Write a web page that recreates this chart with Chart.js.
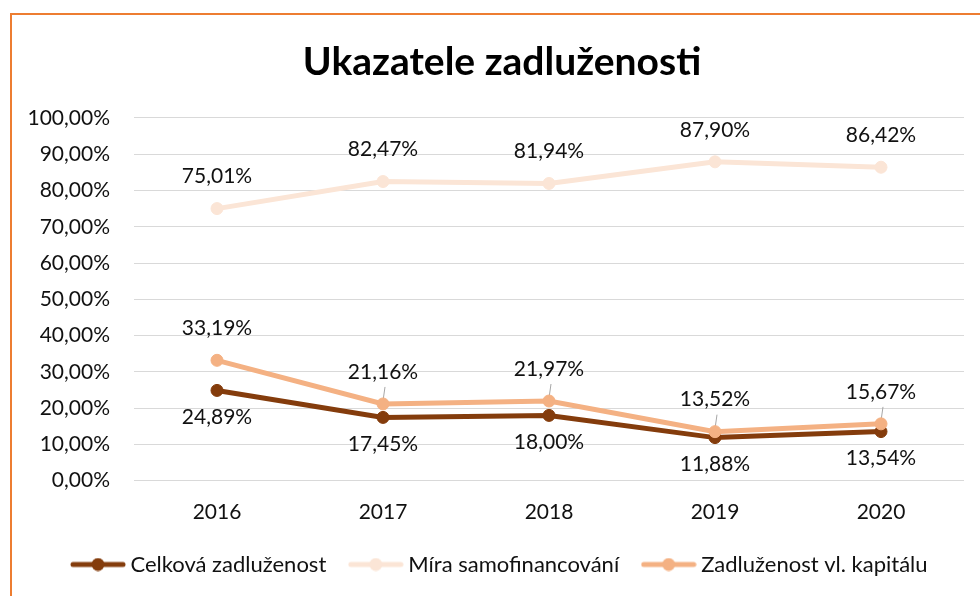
<!DOCTYPE html>
<html lang="cs">
<head>
<meta charset="UTF-8">
<title>Ukazatele zadluženosti</title>
<script src="https://cdn.jsdelivr.net/npm/chart.js"></script>
<style>
    html, body {
        margin: 0;
        padding: 0;
        width: 980px;
        height: 596px;
        overflow: hidden;
        background: #fff;
    }
    #wrap {
        position: absolute;
        left: 0;
        top: 0;
        width: 1004px;
        height: 596px;
    }
    .frame {
        position: absolute;
        left: 10px;
        top: 13px;
        width: 2000px;
        height: 2000px;
        border: 2px solid #ED7D31;
        pointer-events: none;
    }
</style>
</head>
<body>
<div id="wrap">
    <canvas id="chart" width="1004" height="596"></canvas>
</div>
<div class="frame"></div>

<script>
const years = ['2016', '2017', '2018', '2019', '2020'];
const celkovaZadluzenost = [24.89, 17.45, 18.00, 11.88, 13.54];
const miraSamofinancovani = [75.01, 82.47, 81.94, 87.90, 86.42];
const zadluzenostVlKapitalu = [33.19, 21.16, 21.97, 13.52, 15.67];

const FONT = 'Lato, "Open Sans", sans-serif';
const TEXT = '#111111';

const fmt = v => v.toFixed(2).replace('.', ',') + '%';

// legend marker: line with a dot in the middle
function marker(color) {
    const c = document.createElement('canvas');
    c.width = 56;
    c.height = 14;
    const g = c.getContext('2d');
    g.strokeStyle = color;
    g.lineWidth = 5;
    g.lineCap = 'round';
    g.beginPath();
    g.moveTo(3, 7);
    g.lineTo(53, 7);
    g.stroke();
    g.fillStyle = color;
    g.beginPath();
    g.arc(28, 7, 6.5, 0, Math.PI * 2);
    g.fill();
    return c;
}

// data labels (no datalabels plugin available)
const valueLabels = {
    id: 'valueLabels',
    beforeDatasetsDraw(chart) {
        const ctx = chart.ctx;
        ctx.save();
        ctx.strokeStyle = '#A6A6A6';
        ctx.lineWidth = 1;
        chart.data.datasets.forEach((ds, i) => {
            if (!ds.leaders) return;
            chart.getDatasetMeta(i).data.forEach((pt, j) => {
                if (!ds.leaders.includes(j)) return;
                ctx.beginPath();
                ctx.moveTo(pt.x + 2, pt.y - 17);
                ctx.lineTo(pt.x, pt.y - 3);
                ctx.stroke();
            });
        });
        ctx.restore();
    },
    afterDatasetsDraw(chart) {
        const ctx = chart.ctx;
        ctx.save();
        ctx.font = '21px ' + FONT;
        ctx.fillStyle = TEXT;
        ctx.textAlign = 'center';
        ctx.textBaseline = 'middle';
        chart.data.datasets.forEach((ds, i) => {
            chart.getDatasetMeta(i).data.forEach((pt, j) => {
                const y = ds.labelSide === 'below' ? pt.y + 27 : pt.y - 32;
                ctx.fillText(fmt(ds.data[j]), pt.x, y);
            });
        });
        ctx.restore();
    }
};

const colors = ['#843C0C', '#FBE5D6', '#F4B183'];

function line(label, data, color, order, extra) {
    return Object.assign({
        label: label,
        data: data,
        borderColor: color,
        backgroundColor: color,
        borderWidth: 5,
        pointRadius: 6,
        pointBorderWidth: 1,
        pointBackgroundColor: color,
        pointBorderColor: color,
        tension: 0,
        order: order
    }, extra);
}

new Chart(document.getElementById('chart'), {
    type: 'line',
    data: {
        labels: years,
        datasets: [
            line('Celková zadluženost', celkovaZadluzenost, colors[0], 3, {labelSide: 'below'}),
            line('Míra samofinancování', miraSamofinancovani, colors[1], 2, {labelSide: 'above'}),
            line('Zadluženost vl. kapitálu', zadluzenostVlKapitalu, colors[2], 1, {labelSide: 'above', leaders: [1, 2, 3, 4]})
        ]
    },
    plugins: [valueLabels],
    options: {
        responsive: false,
        animation: false,
        devicePixelRatio: 1,
        layout: { padding: { left: 0, right: 0, top: 0, bottom: 10.5 } },
        plugins: {
            title: {
                display: true,
                text: 'Ukazatele zadluženosti',
                color: '#000',
                font: { family: FONT, size: 39, weight: 'bold', lineHeight: 1.15 },
                padding: { top: 39.5, bottom: 33.6 }
            },
            legend: {
                position: 'bottom',
                labels: {
                    usePointStyle: true,
                    pointStyleWidth: 43,
                    padding: 28,
                    color: TEXT,
                    font: { family: FONT, size: 22 },
                    sort: (a, b) => a.datasetIndex - b.datasetIndex,
                    generateLabels(chart) {
                        const items = Chart.defaults.plugins.legend.labels.generateLabels(chart);
                        items.forEach(it => { it.pointStyle = marker(colors[it.datasetIndex]); });
                        return items;
                    }
                }
            },
            tooltip: { enabled: false }
        },
        scales: {
            x: {
                offset: true,
                grid: { display: false, drawTicks: false },
                border: { display: false },
                ticks: { color: TEXT, font: { family: FONT, size: 21 }, padding: 18.7 },
                afterFit(scale) {
                    const lg = scale.chart.legend ? scale.chart.legend.height : 60;
                    scale.height = 596 - 10.5 - lg - 480.7;
                }
            },
            y: {
                min: 0,
                max: 100,
                grid: { color: '#D9D9D9', lineWidth: 1, drawTicks: false },
                border: { display: false },
                ticks: {
                    stepSize: 10,
                    padding: 24,
                    color: TEXT,
                    font: { family: FONT, size: 21 },
                    callback: v => fmt(v)
                },
                afterFit(scale) {
                    scale.width = 134;
                }
            },
            // empty right-hand strip so the plot ends where the reference does
            yRight: {
                position: 'right',
                grid: { display: false, drawTicks: false },
                border: { display: false },
                ticks: { display: false },
                afterFit(scale) {
                    scale.width = 40;
                }
            }
        }
    }
});
</script>
</body>
</html>
